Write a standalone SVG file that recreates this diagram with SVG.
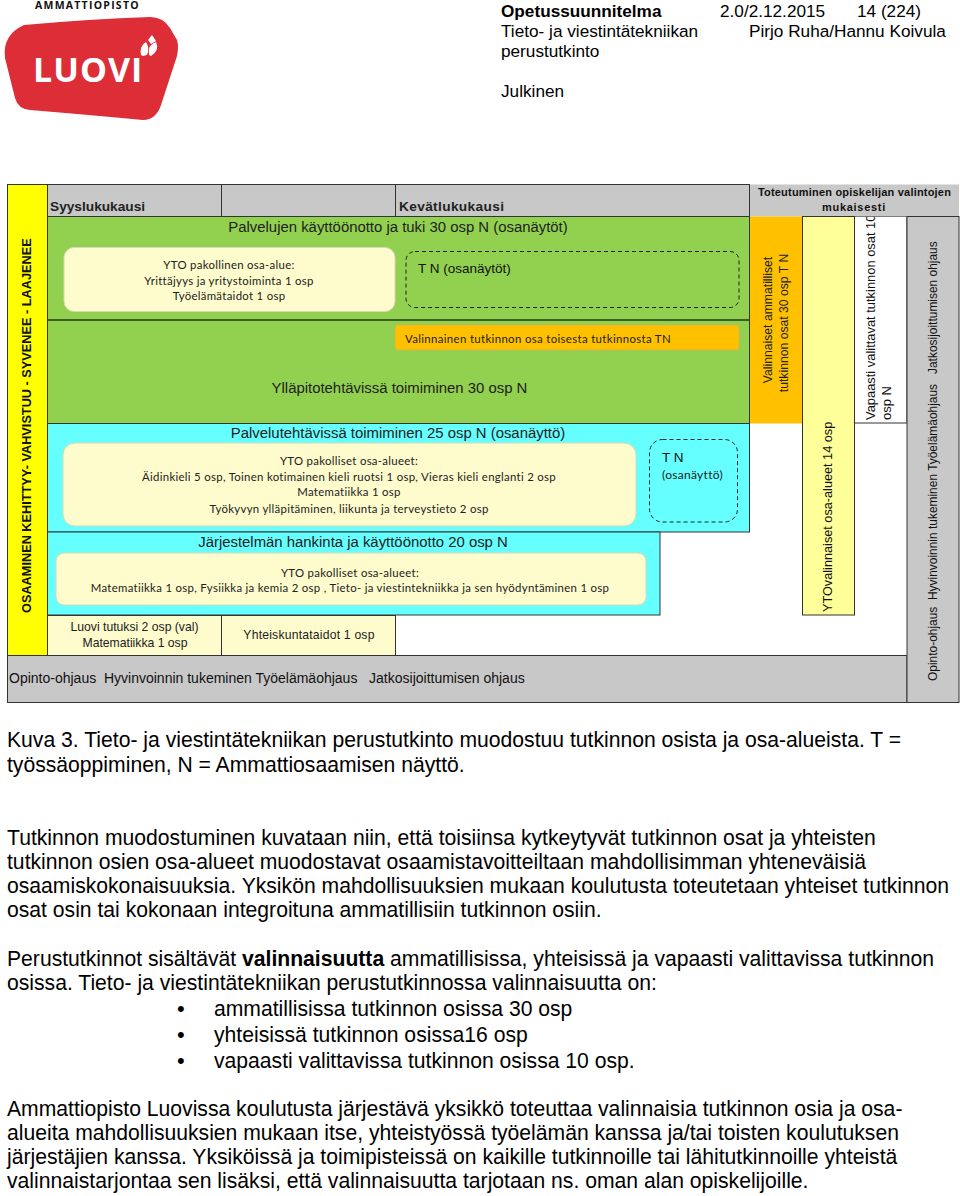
<svg xmlns="http://www.w3.org/2000/svg" width="960" height="1196" viewBox="0 0 960 1196">
<style>
text{font-family:"Liberation Sans",Arial,sans-serif;fill:#111}
.b{font-size:21.15px;fill:#000}
.h{font-size:13.7px;fill:#222}
.s{font-family:Lato,"Liberation Sans",sans-serif;font-size:11.4px;text-anchor:middle;letter-spacing:.3px;fill:#222}
.m{font-size:14.9px;text-anchor:middle;fill:#222}
.r{font-size:12.2px;text-anchor:middle;fill:#222}
.hd{font-size:17.2px;fill:#000}
.bu{font-size:22px;fill:#000}
.c{stroke:#333;stroke-width:1}
.box{fill:#fefbcd;stroke:#d8d8b8;stroke-width:1}
.dash{fill:none;stroke:#222;stroke-width:1;stroke-dasharray:4 3}
</style>
<rect width="960" height="1196" fill="#fff"/>
<g id="logo">
<path d="M24 25Q90 19 150 17Q163 17 170 28L177 40Q179 46 177 56L161 105Q156 120 143 120Q90 115 30 110Q18 109 15 98L5 58Q2 35 24 25Z" fill="#dd2d37"/>
<text x="35" y="9" font-size="10.5" font-weight="700" letter-spacing="1.25" style="font-family:'Open Sans',sans-serif">AMMATTIOPISTO</text>
<text x="33" y="82" font-size="34" font-weight="700" letter-spacing="1" style="font-family:'Open Sans',sans-serif;fill:#fff">LUOVI</text>
<path d="M141 55Q139 46 146 42Q150 48 147 55L143 56ZM149 55Q147 45 156 42Q160 50 151 56ZM148 40L152 35L156 41L151 44Z" fill="#fff"/>
</g>
<g id="page-header">
<text class="hd" x="501" y="17" font-weight="700">Opetussuunnitelma</text>
<text class="hd" x="720" y="17">2.0/2.12.2015</text>
<text class="hd" x="857" y="17">14 (224)</text>
<text class="hd" x="501" y="37">Tieto- ja viestintätekniikan</text>
<text class="hd" x="749" y="37">Pirjo Ruha/Hannu Koivula</text>
<text class="hd" x="501" y="57">perustutkinto</text>
<text class="hd" x="501" y="97">Julkinen</text>
</g>
<g id="white-col">
<rect class="c" x="854.500" y="216.500" width="52.500" height="206.500" fill="#fff"/>
<text transform="translate(875 420) rotate(-90)" font-size="12.900" fill="#222">Vapaasti valittavat tutkinnon osat 10</text>
<text transform="translate(891 420) rotate(-90)" font-size="13" fill="#222">osp N</text>
</g>
<g id="header">
<rect class="c" x="47.500" y="184.500" width="174" height="32" fill="#c8c8c8"/>
<rect class="c" x="221.500" y="184.500" width="174" height="32" fill="#c8c8c8"/>
<rect class="c" x="395.500" y="184.500" width="354" height="32" fill="#c8c8c8"/>
<rect x="750" y="184.500" width="209" height="32" fill="#c8c8c8"/>
<text class="h" x="50" y="211" font-weight="700">Syyslukukausi</text>
<text class="h" x="399" y="211" font-weight="700" letter-spacing=".35">Kevätlukukausi</text>
<text x="854.500" y="196" font-size="11" font-weight="700" text-anchor="middle" letter-spacing=".2">Toteutuminen opiskelijan valintojen</text>
<text x="854" y="211" font-size="11" font-weight="700" text-anchor="middle" letter-spacing=".7">mukaisesti</text>
</g>
<g id="side-axis">
<rect class="c" x="7.500" y="184.500" width="40" height="471" fill="#ffff00"/>
<text transform="translate(31 613) rotate(-90)" font-size="12.740" font-weight="700">OSAAMINEN KEHITTYY- VAHVISTUU - SYVENEE - LAAJENEE</text>
</g>
<g id="green-panel">
<rect class="c" x="47.500" y="216.500" width="702" height="207" fill="#92d050"/>
<path d="M47.500 320H749.500" stroke="#1f3a12" stroke-width="1.500"/>
<text class="m" x="398" y="232">Palvelujen käyttöönotto ja tuki 30 osp N (osanäytöt)</text>
<text class="m" x="399.500" y="393">Ylläpitotehtävissä toimiminen 30 osp N</text>
</g>
<g id="cyan-panel">
<rect class="c" x="47.500" y="423.500" width="702" height="108.500" fill="#66ffff"/>
<rect class="c" x="47.500" y="532" width="612.500" height="83" fill="#66ffff"/>
<text class="m" x="398" y="438">Palvelutehtävissä toimiminen 25 osp N (osanäyttö)</text>
<text class="m" x="353" y="547">Järjestelmän hankinta ja käyttöönotto 20 osp N</text>
</g>
<g id="yto-1">
<rect class="box" x="64" y="247.500" width="331" height="64" rx="10"/>
<text class="s" x="229" y="269">YTO pakollinen osa-alue:</text>
<text class="s" x="229" y="285">Yrittäjyys ja yritystoiminta 1 osp</text>
<text class="s" x="229" y="300">Työelämätaidot 1 osp</text>
</g>
<g id="tn-1">
<rect class="dash" x="406" y="251.500" width="333" height="56" rx="9"/>
<text x="418" y="273" font-size="13.500" fill="#222">T  N (osanäytöt)</text>
</g>
<g id="valinnainen">
<rect x="395" y="325" width="344" height="25" rx="3" fill="#ffc000" stroke="#d6b64d"/>
<text class="s" x="405" y="343" style="text-anchor:start;letter-spacing:.35px">Valinnainen tutkinnon osa toisesta tutkinnosta  TN</text>
</g>
<g id="yto-2">
<rect class="box" x="63" y="443" width="573" height="83" rx="12"/>
<text class="s" x="349" y="465">YTO pakolliset osa-alueet:</text>
<text class="s" x="349" y="481">Äidinkieli 5 osp, Toinen kotimainen kieli ruotsi 1 osp, Vieras kieli englanti 2 osp</text>
<text class="s" x="349" y="496">Matematiikka 1 osp</text>
<text class="s" x="349" y="513">Työkyvyn ylläpitäminen, liikunta ja terveystieto 2 osp</text>
</g>
<g id="tn-2">
<rect class="dash" x="649.500" y="439.500" width="88" height="82.500" rx="13"/>
<text x="662" y="462" font-size="13.500" fill="#222">T  N</text>
<text class="s" x="662" y="479" style="text-anchor:start;font-size:12px">(osanäyttö)</text>
</g>
<g id="yto-3">
<rect class="box" x="56" y="553" width="590" height="52" rx="8"/>
<text class="s" x="350" y="577">YTO pakolliset osa-alueet:</text>
<text class="s" x="350" y="592">Matematiikka 1 osp, Fysiikka ja kemia 2 osp , Tieto- ja viestintekniikka ja sen hyödyntäminen 1 osp</text>
</g>
<g id="luovi-tutuksi">
<rect class="c" x="47.500" y="615.500" width="174" height="40" fill="#fefbcd"/>
<text class="r" x="134.500" y="631">Luovi tutuksi 2 osp (val)</text>
<text class="r" x="135" y="647">Matematiikka 1 osp</text>
</g>
<g id="yhteiskunta">
<rect class="c" x="221.500" y="615.500" width="174" height="40" fill="#fefbcd"/>
<text class="r" x="309" y="639" letter-spacing=".2">Yhteiskuntataidot 1 osp</text>
</g>
<g id="ohjaus-bottom">
<rect class="c" x="7.500" y="655.500" width="899.500" height="47" fill="#c8c8c8"/>
<text x="9" y="683" font-size="14" fill="#222" xml:space="preserve">Opinto-ohjaus  Hyvinvoinnin tukeminen Työelämäohjaus   Jatkosijoittumisen ohjaus</text>
</g>
<g id="ohjaus-right">
<rect class="c" x="907" y="216.500" width="52" height="486" fill="#c8c8c8"/>
<text transform="translate(937 681) rotate(-90)" font-size="11.950" fill="#222" xml:space="preserve">Opinto-ohjaus  Hyvinvoinnin tukeminen Työelämäohjaus   Jatkosijoittumisen ohjaus</text>
</g>
<g id="valinnaiset">
<rect x="750" y="216.500" width="52" height="207" fill="#ffc000"/>
<text class="r" transform="translate(772 320) rotate(-90)">Valinnaiset ammatilliset</text>
<text class="r" transform="translate(788 323) rotate(-90)">tutkinnon osat 30 osp T N</text>
</g>
<g id="yto-valinnaiset">
<rect class="c" x="802.500" y="216.500" width="52" height="398.500" fill="#ffff99"/>
<text transform="translate(832 612) rotate(-90)" font-size="12.700" fill="#222">YTOvalinnaiset osa-alueet 14 osp</text>
</g>
<g id="body">
<text class="b" x="7" y="747">Kuva 3. Tieto- ja viestintätekniikan perustutkinto muodostuu tutkinnon osista ja osa-alueista. T =</text>
<text class="b" x="7" y="772">työssäoppiminen, N = Ammattiosaamisen näyttö.</text>
<text class="b" x="7" y="845">Tutkinnon muodostuminen kuvataan niin, että toisiinsa kytkeytyvät tutkinnon osat ja yhteisten</text>
<text class="b" x="7" y="869">tutkinnon osien osa-alueet muodostavat osaamistavoitteiltaan mahdollisimman yhteneväisiä</text>
<text class="b" x="7" y="893">osaamiskokonaisuuksia. Yksikön mahdollisuuksien mukaan koulutusta toteutetaan yhteiset tutkinnon</text>
<text class="b" x="7" y="917">osat osin tai kokonaan integroituna ammatillisiin tutkinnon osiin.</text>
<text class="b" x="7" y="966">Perustutkinnot sisältävät <tspan font-weight="700">valinnaisuutta</tspan> ammatillisissa, yhteisissä ja vapaasti valittavissa tutkinnon</text>
<text class="b" x="7" y="990">osissa. Tieto- ja viestintätekniikan perustutkinnossa valinnaisuutta on:</text>
<text class="bu" x="177" y="1016">•</text>
<text class="b" x="214" y="1016">ammatillisissa tutkinnon osissa 30 osp</text>
<text class="bu" x="177" y="1042">•</text>
<text class="b" x="214" y="1042">yhteisissä tutkinnon osissa16 osp</text>
<text class="bu" x="177" y="1068">•</text>
<text class="b" x="214" y="1068">vapaasti valittavissa tutkinnon osissa 10 osp.</text>
<text class="b" x="7" y="1116">Ammattiopisto Luovissa koulutusta järjestävä yksikkö toteuttaa valinnaisia tutkinnon osia ja osa-</text>
<text class="b" x="7" y="1140">alueita mahdollisuuksien mukaan itse, yhteistyössä työelämän kanssa ja/tai toisten koulutuksen</text>
<text class="b" x="7" y="1164">järjestäjien kanssa. Yksiköissä ja toimipisteissä on kaikille tutkinnoille tai lähitutkinnoille yhteistä</text>
<text class="b" x="7" y="1188">valinnaistarjontaa sen lisäksi, että valinnaisuutta tarjotaan ns. oman alan opiskelijoille.</text>
</g>
</svg>
